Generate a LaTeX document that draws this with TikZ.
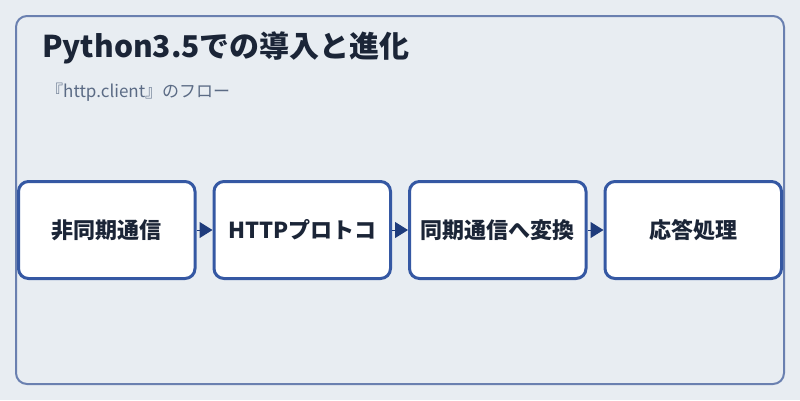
\documentclass[tikz,border=0pt]{standalone}
\usepackage{fontspec}
\setmainfont{Noto Sans CJK JP}
\usetikzlibrary{positioning}
\usetikzlibrary{arrows.meta}
\definecolor{bgcol}{HTML}{E8EDF2}
\definecolor{panelcol}{HTML}{6A80B0}
\definecolor{boxcol}{HTML}{3558A3}
\definecolor{tipcol}{HTML}{1F3C7C}
\definecolor{textcol}{HTML}{1B2537}
\definecolor{subcol}{HTML}{5B6B85}
\tikzstyle{title} = [anchor=base west, inner sep=0pt, text=textcol, font=\fontsize{30pt}{34pt}\selectfont\bfseries]
\tikzstyle{subtitle} = [anchor=base west, inner sep=0pt, text=subcol, font=\fontsize{17pt}{21pt}\selectfont]
\tikzstyle{stage} = [rectangle, rounded corners=10pt, minimum width=176.5pt, minimum height=97pt, inner sep=0pt, text centered, draw=boxcol, line width=3pt, fill=white, text=textcol, font=\fontsize{22pt}{26pt}\selectfont\bfseries]
\tikzstyle{arrow} = [draw=tipcol, line width=1pt, -{Triangle[length=13pt,width=16pt]}, tipcol]

\begin{document}
\begin{tikzpicture}[x=1pt, y=-1pt, node distance=16pt]

        % Background and panel
        \fill[bgcol] (0,0) rectangle (800,400);
        \useasboundingbox (0,0) rectangle (800,400);
        \draw[panelcol, line width=2pt, rounded corners=11pt] (16,16) rectangle (784,384);

        % Heading
        \node[title] (head) at (42,57) {Python3.5での導入と進化};
        \node[subtitle] (sub) at (46,97) {『http.client』のフロー};

        % Flow boxes
        \node[stage] (async) at (106.75,230) {非同期通信};
        \node[stage, right= of async] (http) {HTTPプロトコ};
        \node[stage, right= of http] (sync) {同期通信へ変換};
        \node[stage, right= of sync] (resp) {応答処理};

        % Connections
        \draw[arrow] (async) -- (http);
        \draw[arrow] (http) -- (sync);
        \draw[arrow] (sync) -- (resp);

    \end{tikzpicture}
\end{document}
